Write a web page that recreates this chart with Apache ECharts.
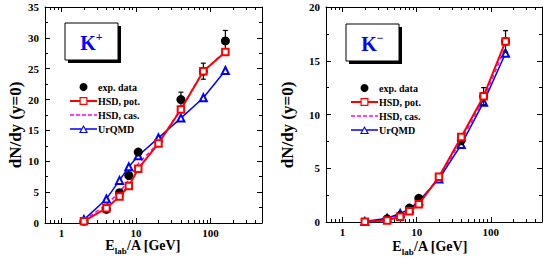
<!DOCTYPE html>
<html><head><meta charset="utf-8">
<script src="https://cdn.jsdelivr.net/npm/echarts@6/dist/echarts.min.js"></script>
<style>html,body{margin:0;padding:0;background:#fff}#c{width:545px;height:259px}</style>
</head><body><div id="c"></div>
<script>
// ---- data ----
const energies = [2, 4, 6, 8, 10.7, 20, 40, 80, 158];
const expE = [2, 4, 6, 8, 10.7, 40, 80, 158];
// K+ panel
const kpExp = [0.3, 2.2, 4.9, 7.7, 11.5, 20.0, 24.6, 29.5];
const kpExpErr = [0, 0, 0, 0, 0, 1.2, 1.3, 1.7];
const kpHsdPot = [0.3, 2.4, 4.3, 6.0, 8.8, 12.9, 18.4, 24.6, 27.7];
const kpHsdCas = [0.4, 3.0, 5.0, 7.0, 9.6, 13.0, 18.5, 24.6, 27.8];
const kpUrqmd = [0.55, 3.9, 6.9, 9.1, 10.9, 13.8, 17.0, 20.3, 24.7];
// K- panel
const kmExpE = [4, 6, 8, 10.7, 40, 80, 158];
const kmExp = [0.3, 0.6, 1.3, 2.2, 7.6, 11.7, 16.8];
const kmExpErr = [0, 0, 0, 0, 0.4, 0.8, 1.0];
const kmHsdPot = [0.02, 0.15, 0.5, 1.0, 1.65, 4.2, 7.9, 11.7, 16.8];
const kmHsdCas = [0.03, 0.25, 0.7, 1.15, 1.85, 4.1, 7.6, 11.4, 16.3];
const kmUrqmd = [0.05, 0.35, 0.8, 1.2, 1.95, 4.0, 7.2, 11.15, 15.7];
const xMajor = [1, 10, 100];
const xMinor = [0.7, 0.8, 0.9, 2, 3, 4, 5, 6, 7, 8, 9, 20, 30, 40, 50, 60, 70, 80, 90, 200, 300, 400];
const legendNames = ['exp. data', 'HSD, pot.', 'HSD, cas.', 'UrQMD'];

const FONT = '"Liberation Serif","DejaVu Serif",serif';
const chart = echarts.init(document.getElementById('c'), null, {renderer: 'svg'});
const pair = (xs, ys) => xs.map((x, i) => [x, ys[i]]);

// legend icons (line + hollow marker), 27 x 8 boxes
const ICON_SQUARE = 'path://M0,3L10,3L10,5L0,5Z M17,3L27,3L27,5L17,5Z M9.5,0L17.5,0L17.5,8L9.5,8Z M10.7,1.2L10.7,6.8L16.3,6.8L16.3,1.2Z';
const ICON_TRI = 'path://M0,3.3L11.4,3.3L11.4,4.7L0,4.7Z M15.6,3.3L27,3.3L27,4.7L15.6,4.7Z M13.5,0L18,8L9,8Z M13.5,2.3L10.9,6.9L16.1,6.9Z';
const ICON_DASH = 'path://M0,3.3L4,3.3L4,4.7L0,4.7Z M6,3.3L10,3.3L10,4.7L6,4.7Z M12,3.3L16,3.3L16,4.7L12,4.7Z M18,3.3L22,3.3L22,4.7L18,4.7Z M24,3.3L27,3.3L27,4.7L24,4.7Z M0,0L0.01,0L0.01,8L0,8Z';

const grids = [
  {left: 45, top: 7, width: 217, height: 216},
  {left: 326, top: 7, width: 216, height: 215}
];
const xAxes = [], yAxes = [];
grids.forEach((g, gi) => {
  const base = {type: 'log', logBase: 10, min: 0.6, max: 490, gridIndex: gi, splitLine: {show: false}};
  xAxes.push(Object.assign({}, base, {position: 'bottom',
    axisLine: {lineStyle: {color: '#000', width: 1}},
    axisTick: {inside: true, length: 5, customValues: xMajor, lineStyle: {color: '#000'}},
    axisLabel: {customValues: xMajor, margin: 4, color: '#000', fontFamily: FONT, fontWeight: 'bold', fontSize: 11}}));
  xAxes.push(Object.assign({}, base, {position: 'bottom',
    axisLine: {show: false},
    axisTick: {inside: true, length: 3, customValues: xMinor, lineStyle: {color: '#000'}},
    axisLabel: {show: false}}));
  xAxes.push(Object.assign({}, base, {position: 'top',
    axisLine: {lineStyle: {color: '#000', width: 1}},
    axisTick: {inside: true, length: 5, customValues: xMajor, lineStyle: {color: '#000'}},
    axisLabel: {show: false}}));
  xAxes.push(Object.assign({}, base, {position: 'top',
    axisLine: {show: false},
    axisTick: {inside: true, length: 3, customValues: xMinor, lineStyle: {color: '#000'}},
    axisLabel: {show: false}}));
  const ymax = gi === 0 ? 35 : 20;
  const yb = {type: 'value', min: 0, max: ymax, interval: 5, gridIndex: gi, splitLine: {show: false},
    axisLine: {show: true, lineStyle: {color: '#000', width: 1}},
    axisTick: {show: true, inside: true, length: 5, lineStyle: {color: '#000'}},
    minorTick: {show: true, splitNumber: 2, length: 3, lineStyle: {color: '#000'}}};
  yAxes.push(Object.assign({}, yb, {position: 'left',
    axisLabel: {margin: 6, color: '#000', fontFamily: FONT, fontWeight: 'bold', fontSize: 11}}));
  yAxes.push(Object.assign({}, yb, {position: 'right', axisLabel: {show: false}}));
});

function errSeries(xi, yi, xs, ys, es) {
  return {type: 'custom', xAxisIndex: xi, yAxisIndex: yi, z: 5, silent: true,
    data: xs.map((x, i) => [x, ys[i], es[i]]).filter(d => d[2] > 0),
    renderItem: (params, api) => {
      const x = api.value(0), y = api.value(1), e = api.value(2);
      const top = api.coord([x, y + e]), bot = api.coord([x, y - e]);
      const w = 2.5;
      const st = {stroke: '#000', lineWidth: 1.2};
      return {type: 'group', children: [
        {type: 'line', shape: {x1: top[0], y1: top[1], x2: bot[0], y2: bot[1]}, style: st},
        {type: 'line', shape: {x1: top[0] - w, y1: top[1], x2: top[0] + w, y2: top[1]}, style: st},
        {type: 'line', shape: {x1: bot[0] - w, y1: bot[1], x2: bot[0] + w, y2: bot[1]}, style: st}
      ]};
    }};
}
function panelSeries(gi, ex, ey, ee, pot, cas, urq) {
  const xi = gi * 4, yi = gi * 2;
  return [
    errSeries(xi, yi, ex, ey, ee),
    {name: legendNames[0], type: 'scatter', xAxisIndex: xi, yAxisIndex: yi, z: 6, symbol: 'circle', symbolSize: 9,
      itemStyle: {color: '#000', opacity: 1}, data: pair(ex, ey)},
    {name: legendNames[2], type: 'line', xAxisIndex: xi, yAxisIndex: yi, z: 3, showSymbol: false, symbol: 'none',
      lineStyle: {color: '#ff00ff', width: 1.5, type: [4, 3]}, itemStyle: {color: '#ff00ff'}, data: pair(energies, cas)},
    {name: legendNames[3], type: 'line', xAxisIndex: xi, yAxisIndex: yi, z: 4, symbol: 'emptyTriangle', symbolSize: 7,
      lineStyle: {color: '#0000ff', width: 1.5}, itemStyle: {color: '#0000ff', borderWidth: 1}, data: pair(energies, urq)},
    {name: legendNames[1], type: 'line', xAxisIndex: xi, yAxisIndex: yi, z: 7, symbol: 'emptyRect', symbolSize: 6.5,
      lineStyle: {color: '#ff0000', width: 2}, itemStyle: {color: '#ff0000', borderWidth: 1}, data: pair(energies, pot)}
  ];
}

function legendAt(left, top) {
  return {orient: 'vertical', left: left, top: top, itemWidth: 27, itemHeight: 8, itemGap: 4,
    selectedMode: false, symbolKeepAspect: true,
    itemStyle: {borderWidth: 0},
    data: [
      {name: legendNames[0], icon: 'circle'},
      {name: legendNames[1], icon: ICON_SQUARE},
      {name: legendNames[2], icon: ICON_DASH},
      {name: legendNames[3], icon: ICON_TRI}
    ],
    textStyle: {fontFamily: FONT, fontWeight: 'bold', fontSize: 10, color: '#000', lineHeight: 10, padding: [0, 0, 0, -4]}};
}
function kBox(x, y, sign) {
  return [
    {type: 'rect', shape: {x: x + 3, y: y + 3, width: 53, height: 37}, style: {fill: '#000'}},
    {type: 'rect', shape: {x: x, y: y, width: 53, height: 37}, style: {fill: '#fff', stroke: '#000', lineWidth: 1}},
    {type: 'text', x: x + 26.5, y: y + 19, style: {text: '{k|K}{s|' + sign + '}', align: 'center', verticalAlign: 'middle',
      rich: {k: {fontFamily: FONT, fontWeight: 'bold', fontSize: 20, fill: '#0000ff', verticalAlign: 'bottom'},
             s: {fontFamily: FONT, fontWeight: 'bold', fontSize: 12, fill: '#0000ff', verticalAlign: 'top', padding: [0, 0, 10, 0]}}}}
  ];
}
function yTitle(x, y) {
  return {type: 'text', x: x, y: y, rotation: Math.PI / 2,
    style: {text: 'dN/dy (y=0)', align: 'center', verticalAlign: 'middle', fontFamily: FONT, fontWeight: 'bold', fontSize: 17, fill: '#000'}};
}
function xTitle(x, y) {
  return {type: 'text', x: x, y: y,
    style: {text: '{e|E}{l|lab}{e|/A [GeV]}', align: 'center', verticalAlign: 'middle',
      rich: {e: {fontFamily: FONT, fontWeight: 'bold', fontSize: 14, fill: '#000', verticalAlign: 'bottom'},
             l: {fontFamily: FONT, fontWeight: 'bold', fontSize: 9, fill: '#000', verticalAlign: 'bottom', padding: [0, 0, -3, 0]}}}};
}

chart.setOption({
  animation: false,
  backgroundColor: '#fff',
  grid: grids,
  xAxis: xAxes,
  yAxis: yAxes,
  legend: [legendAt(65, 77), legendAt(346, 78)],
  graphic: [].concat(kBox(65, 23, '+'), kBox(346, 24, '\u2212'),
    [yTitle(15, 125), yTitle(287, 125), xTitle(143, 245), xTitle(430, 246)]),
  series: [].concat(
    panelSeries(0, expE, kpExp, kpExpErr, kpHsdPot, kpHsdCas, kpUrqmd),
    panelSeries(1, kmExpE, kmExp, kmExpErr, kmHsdPot, kmHsdCas, kmUrqmd))
});
</script></body></html>
